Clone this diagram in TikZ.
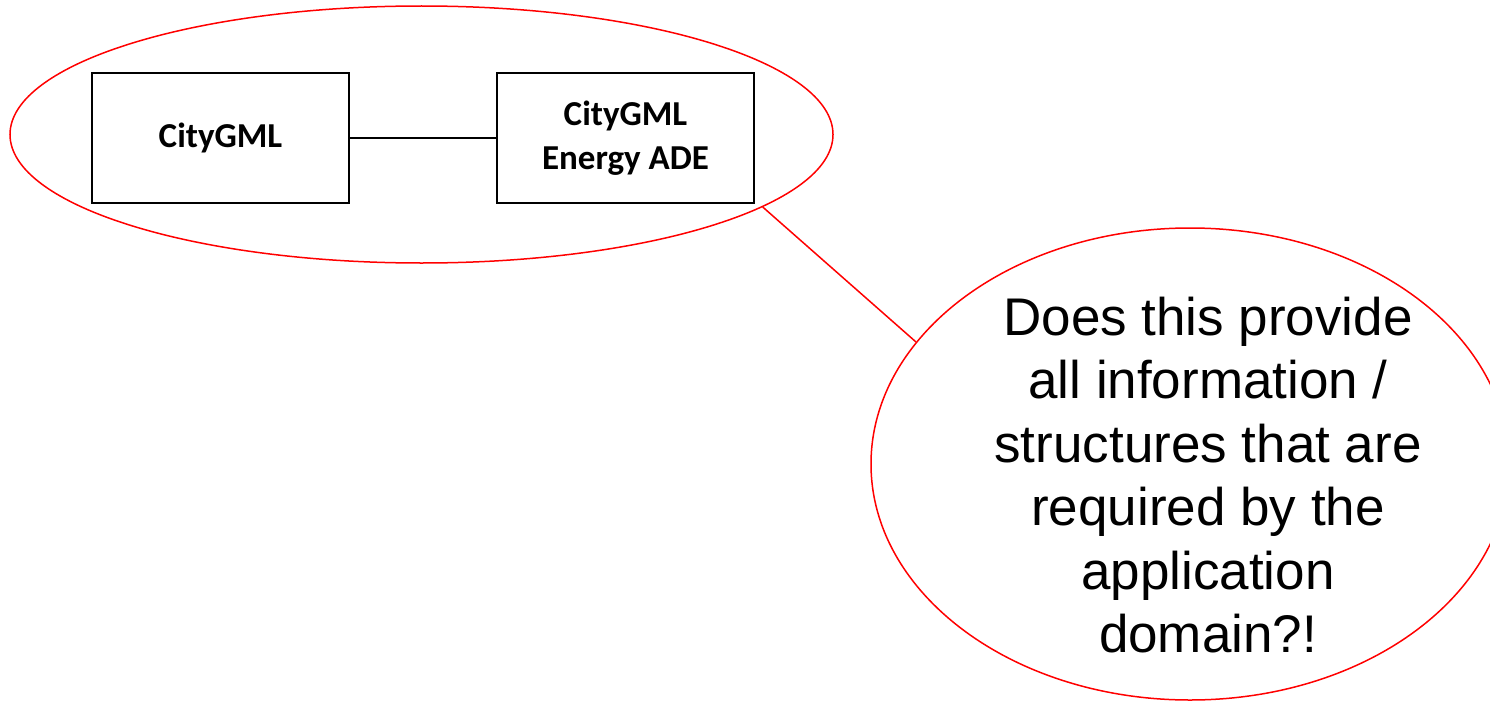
\documentclass[tikz,border=0pt]{standalone}
\usepackage{fontspec}
\setmainfont{Liberation Sans}
\newfontfamily\boxfont{Carlito}
\usetikzlibrary{shapes.geometric}
\begin{document}
\begin{tikzpicture}[x=1pt,y=-1pt,
  mbox/.style={draw=black,line width=2pt,minimum width=257pt,minimum height=130pt,inner sep=0pt,align=center,
    font=\boxfont\bfseries\fontsize{35}{44}\selectfont},
  redell/.style={ellipse,draw=red,line width=1.5pt,inner sep=0pt},
  redline/.style={draw=red,line width=1.5pt}]
\useasboundingbox (0,0) rectangle (1490,701);
\node[redell,minimum width=823pt,minimum height=257pt] (big) at (421.5,134.5) {};
\node[mbox] (citygml) at (220.5,138) {CityGML};
\node[mbox] (ade) at (625.5,138) {CityGML\\Energy ADE};
\draw[line width=2pt] (citygml) -- (ade);
\node[redell,minimum width=638pt,minimum height=472pt] (q) at (1190,464) {};
\node[align=center,inner sep=0pt,font=\fontsize{53}{63.5}\selectfont] (qt) at (1208,475)
  {Does this provide\\all information /\\structures that are\\required by the\\application\\domain?!};
\draw[redline] (big.-12.25) -- (q.156.4);
\end{tikzpicture}
\end{document}
